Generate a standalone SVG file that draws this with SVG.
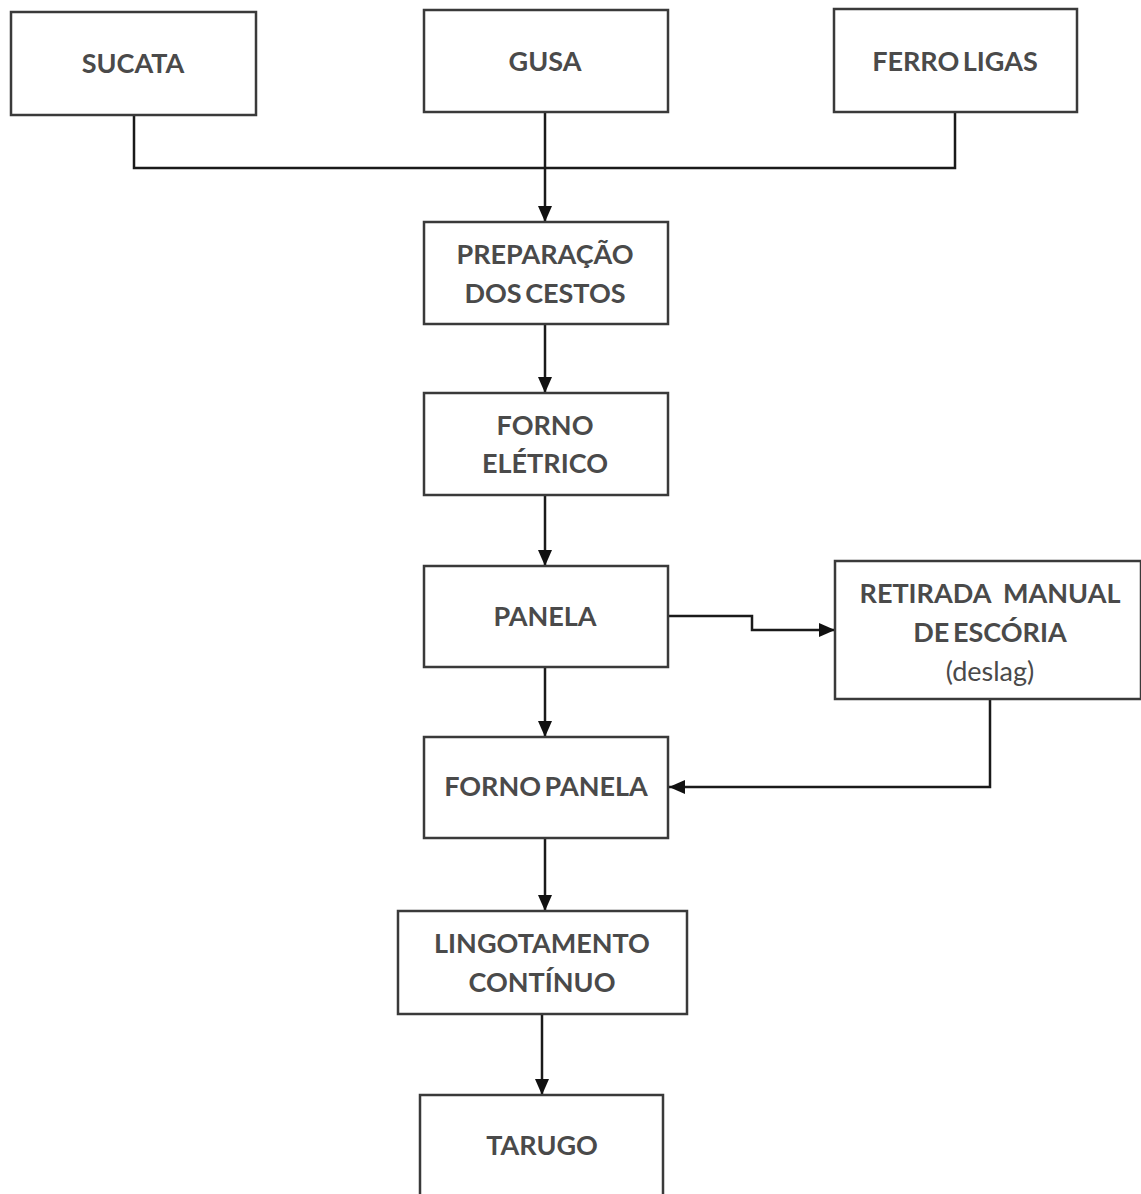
<svg xmlns="http://www.w3.org/2000/svg" width="1141" height="1194" viewBox="0 0 1141 1194">
<defs>
<marker id="ah" markerUnits="userSpaceOnUse" markerWidth="16" markerHeight="16" viewBox="0 0 16 16" refX="16" refY="8" orient="auto">
<path d="M0,1 L16,8 L0,15 Z" fill="#111"/>
</marker>
</defs>
<style>
.box{fill:#fff;stroke:#3a3a3a;stroke-width:2.5}
.t{font-family:Lato,"Open Sans",sans-serif;font-weight:bold;font-size:27px;fill:#4a4a4a;text-anchor:middle;word-spacing:-3px}
.c{fill:none;stroke:#1a1a1a;stroke-width:2.5}
</style>
<rect width="1141" height="1194" fill="#fff"/>
<g id="connectors">
<path class="c" d="M134,115 V168 H955 V112"/>
<path class="c" d="M545,112 V222" marker-end="url(#ah)"/>
<path class="c" d="M545,324 V393" marker-end="url(#ah)"/>
<path class="c" d="M545,495 V566" marker-end="url(#ah)"/>
<path class="c" d="M668,616 H752 V630 H835" marker-end="url(#ah)"/>
<path class="c" d="M990,699 V787 H669" marker-end="url(#ah)"/>
<path class="c" d="M545,667 V737" marker-end="url(#ah)"/>
<path class="c" d="M545,838 V911" marker-end="url(#ah)"/>
<path class="c" d="M542,1014 V1095" marker-end="url(#ah)"/>
</g>
<g id="sucata"><rect class="box" x="11" y="12" width="245" height="103"/><text class="t" x="133" y="73">SUCATA</text></g>
<g id="gusa"><rect class="box" x="424" y="10" width="244" height="102"/><text class="t" x="545" y="71">GUSA</text></g>
<g id="ferroligas"><rect class="box" x="834" y="9" width="243" height="103"/><text class="t" x="955" y="71">FERRO LIGAS</text></g>
<g id="preparacao"><rect class="box" x="424" y="222" width="244" height="102"/><text class="t" x="545" y="264">PREPARAÇÃO</text><text class="t" x="545" y="303">DOS CESTOS</text></g>
<g id="fornoeletrico"><rect class="box" x="424" y="393" width="244" height="102"/><text class="t" x="545" y="435">FORNO</text><text class="t" x="545" y="473">ELÉTRICO</text></g>
<g id="panela"><rect class="box" x="424" y="566" width="244" height="101"/><text class="t" x="545" y="626">PANELA</text></g>
<g id="retirada"><rect class="box" x="835" y="561" width="306" height="138"/><text class="t" x="990" y="603" style="word-spacing:6px">RETIRADA MANUAL</text><text class="t" x="990" y="642">DE ESCÓRIA</text><text class="t" x="990" y="681" style="font-weight:normal">(deslag)</text></g>
<g id="fornopanela"><rect class="box" x="424" y="737" width="244" height="101"/><text class="t" x="546" y="796">FORNO PANELA</text></g>
<g id="lingotamento"><rect class="box" x="398" y="911" width="289" height="103"/><text class="t" x="542" y="953">LINGOTAMENTO</text><text class="t" x="542" y="992">CONTÍNUO</text></g>
<g id="tarugo"><rect class="box" x="420" y="1095" width="243" height="110"/><text class="t" x="542" y="1155">TARUGO</text></g>
</svg>
